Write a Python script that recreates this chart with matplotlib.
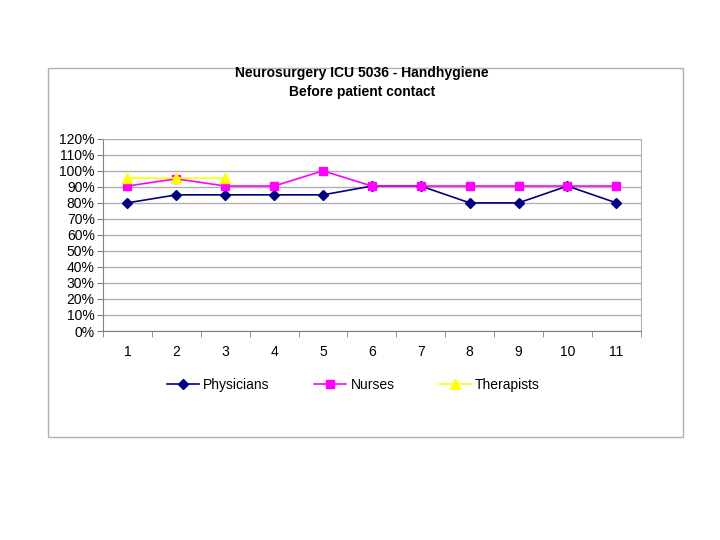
import matplotlib
matplotlib.use("Agg")
import matplotlib.pyplot as plt
from matplotlib.patches import Rectangle
from matplotlib.ticker import FixedLocator, NullFormatter

plt.rcParams['font.family'] = ['Liberation Sans', 'DejaVu Sans']

categories = [1, 2, 3, 4, 5, 6, 7, 8, 9, 10, 11]
physicians = [80, 85, 85, 85, 85, 90.5, 90.5, 80, 80, 90.5, 80]
nurses = [90.5, 95, 90.5, 90.5, 100, 90.5, 90.5, 90.5, 90.5, 90.5, 90.5]
therapist_x = [1, 2, 3]
therapists = [95.5, 95.5, 95.5]
title = "Neurosurgery ICU 5036 - Handhygiene\nBefore patient contact"
yticks = list(range(0, 121, 10))
ytick_labels = [f"{v}%" for v in yticks]

fig = plt.figure(figsize=(7.2, 5.4), dpi=100)
bg = Rectangle((0.0667, 0.191), 0.882, 0.683, transform=fig.transFigure,
               facecolor='white', edgecolor='#b0b0b0', linewidth=1.0, zorder=-5)
fig.add_artist(bg)
ax = fig.add_axes([0.143, 0.387, 0.747, 0.356])
ax.set_zorder(2)
ax.patch.set_alpha(0)

ax.plot(categories, physicians, color='#000080', marker='D', markersize=5, linewidth=1.2, label='Physicians', zorder=3)
ax.plot(categories, nurses, color='#FF00FF', marker='s', markersize=6, linewidth=1.2, label='Nurses', zorder=4)
ax.plot(therapist_x, therapists, color='#FFFF00', marker='^', markersize=7, linewidth=1.2, label='Therapists', zorder=5)

ax.set_xlim(0.5, 11.5)
ax.set_ylim(0, 120)
ax.set_yticks(yticks)
ax.set_yticklabels(ytick_labels, fontsize=10)
ax.set_xticks(categories)
ax.set_xticklabels([str(c) for c in categories], fontsize=10)
ax.xaxis.set_minor_locator(FixedLocator([c + 0.5 for c in range(0, 12)]))
ax.xaxis.set_minor_formatter(NullFormatter())
ax.tick_params(axis='x', which='major', length=0, pad=10)
ax.tick_params(axis='x', which='minor', length=4, direction='out', color='#808080')
ax.tick_params(axis='y', length=4, direction='out', color='#808080', pad=2)
ax.grid(axis='y', color='#b0b0b0', linewidth=1.0)
ax.set_axisbelow(True)
for s in ['top', 'right']:
    ax.spines[s].set_color('#b0b0b0')
for s in ['left', 'bottom']:
    ax.spines[s].set_color('#808080')

fig.text(0.503, 0.878, title, ha='center', va='top', fontsize=10, fontweight='bold', linespacing=1.45)

fig.legend(loc='center', bbox_to_anchor=(0.491, 0.287), ncol=3, frameon=False, fontsize=10,
           columnspacing=3.2, handlelength=2.3, handletextpad=0.3)

fig.savefig("out.png", dpi=100, facecolor='white')
